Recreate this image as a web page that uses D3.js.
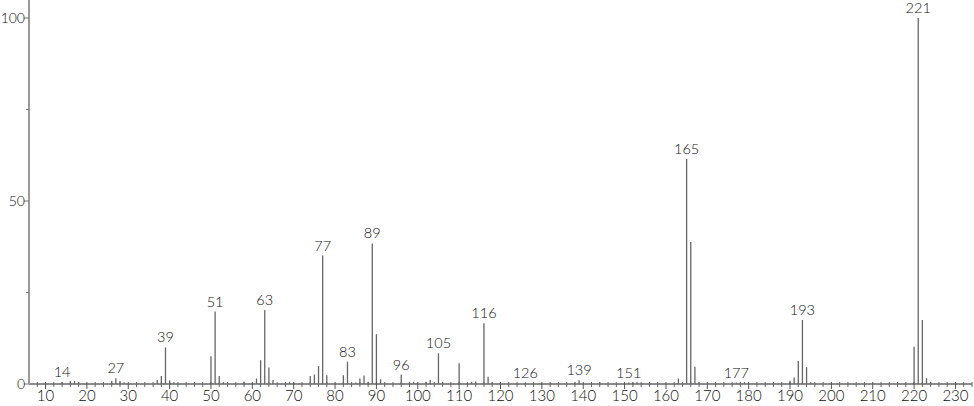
<!DOCTYPE html>
<html>
<head>
<meta charset="utf-8">
<script src="https://cdn.jsdelivr.net/npm/d3@7"></script>
<style>
  body { margin: 0; background: #fff; }
  svg text { font-family: "Lato", "DejaVu Sans", sans-serif; font-weight: 300; fill: #111; }
</style>
</head>
<body>
<svg id="chart" width="974" height="406"></svg>
<script>
// m/z values and relative intensities
const mz = [14, 16, 17, 18, 26, 27, 28, 29, 37, 38, 39, 40, 41, 50, 51, 52, 53, 58,
  61, 62, 63, 64, 65, 69, 70, 74, 75, 76, 77, 78, 82, 83, 85, 86, 87, 88, 89, 90, 91,
  96, 98, 99, 102, 103, 105, 106, 110, 113, 114, 116, 117, 118, 126, 138, 139, 144,
  151, 152, 153, 163, 165, 166, 167, 168, 177, 178, 179, 190, 191, 192, 193, 194, 195,
  220, 221, 222, 223, 224];
const intensity = [0.5, 0.8, 0.8, 0.5, 0.8, 1.6, 0.8, 0.5, 1.1, 2.2, 10.0, 1.0, 0.5, 7.6, 19.8, 2.2, 0.5, 0.6,
  1.5, 6.5, 20.2, 4.5, 1.1, 0.6, 0.5, 2.2, 2.6, 4.9, 35.1, 2.4, 2.4, 6.1, 0.4, 1.5, 2.3, 0.6, 38.4, 13.6, 1.3,
  2.5, 0.6, 0.6, 0.6, 1.1, 8.4, 0.6, 5.7, 0.6, 0.7, 16.6, 2.0, 0.5, 0.3, 0.4, 1.0, 0.5,
  0.4, 0.5, 0.5, 1.5, 61.5, 38.8, 4.7, 0.5, 0.4, 0.5, 0.5, 0.9, 1.8, 6.3, 17.5, 4.6, 0.5,
  10.2, 100, 17.5, 1.6, 0.6];
const labelled = [14, 27, 39, 51, 63, 77, 83, 89, 96, 105, 116, 126, 139, 151, 165, 177, 193, 221];

const xMajor = d3.range(10, 231, 10);
const xMinor = d3.range(8, 235, 2);
const yMajor = [0, 50, 100];
const yMinor = [25, 75];

const svg = d3.select("#chart");
const x = d3.scaleLinear().domain([6, 234]).range([29, 972]);
const y = d3.scaleLinear().domain([0, 100]).range([384, 18]);

const peaks = mz.map((m, i) => ({ mz: m, v: intensity[i] }));

// peaks
svg.selectAll(".peak")
  .data(peaks)
  .enter()
  .append("line")
  .attr("class", "peak")
  .attr("x1", (d) => x(d.mz))
  .attr("x2", (d) => x(d.mz))
  .attr("y1", y(0))
  .attr("y2", (d) => y(d.v))
  .attr("stroke", "#666")
  .attr("stroke-width", 1.3);

// peak labels
svg.selectAll(".peak-label")
  .data(peaks.filter((d) => labelled.includes(d.mz)))
  .enter()
  .append("text")
  .attr("class", "peak-label")
  .attr("x", (d) => x(d.mz))
  .attr("y", (d) => y(d.v) - 5)
  .attr("text-anchor", "middle")
  .attr("font-size", 14.5)
  .text((d) => d.mz);

// x axis
const xAxis = svg.append("g");
xAxis.append("line")
  .attr("x1", x(6)).attr("x2", x(234))
  .attr("y1", y(0)).attr("y2", y(0))
  .attr("stroke", "#666").attr("stroke-width", 1.5);
xAxis.selectAll(".xminor")
  .data(xMinor.filter((v) => v % 10 !== 0))
  .enter()
  .append("line")
  .attr("x1", (d) => x(d)).attr("x2", (d) => x(d))
  .attr("y1", y(0) - 2).attr("y2", y(0) + 3)
  .attr("stroke", "#666").attr("stroke-width", 1);
xAxis.selectAll(".xmajor")
  .data(xMajor)
  .enter()
  .append("line")
  .attr("x1", (d) => x(d)).attr("x2", (d) => x(d))
  .attr("y1", y(0) - 2).attr("y2", y(0) + 5)
  .attr("stroke", "#555").attr("stroke-width", 1);
xAxis.selectAll(".xlabel")
  .data(xMajor)
  .enter()
  .append("text")
  .attr("x", (d) => x(d))
  .attr("y", 401)
  .attr("text-anchor", "middle")
  .attr("font-size", 15)
  .text((d) => d);

// y axis
const yAxis = svg.append("g");
yAxis.append("line")
  .attr("x1", 29).attr("x2", 29)
  .attr("y1", 0).attr("y2", y(0))
  .attr("stroke", "#999").attr("stroke-width", 2);
yAxis.selectAll(".ymajor")
  .data(yMajor)
  .enter()
  .append("line")
  .attr("x1", 24).attr("x2", 29)
  .attr("y1", (d) => y(d)).attr("y2", (d) => y(d))
  .attr("stroke", "#777").attr("stroke-width", 1);
yAxis.selectAll(".yminor")
  .data(yMinor)
  .enter()
  .append("line")
  .attr("x1", 26).attr("x2", 29)
  .attr("y1", (d) => y(d)).attr("y2", (d) => y(d))
  .attr("stroke", "#777").attr("stroke-width", 1);
yAxis.selectAll(".ylabel")
  .data(yMajor)
  .enter()
  .append("text")
  .attr("x", 25)
  .attr("y", (d) => y(d) + 5)
  .attr("text-anchor", "end")
  .attr("font-size", 14)
  .text((d) => d);
</script>
</body>
</html>
